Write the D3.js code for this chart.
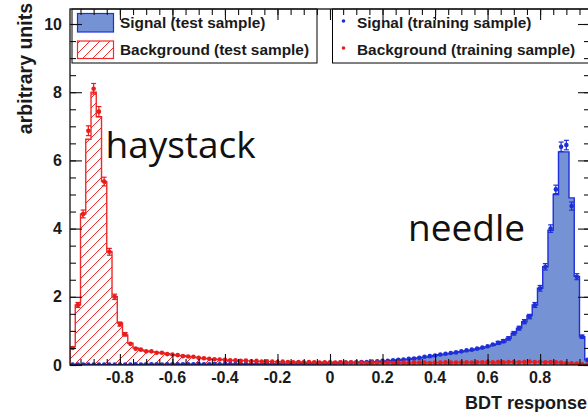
<!DOCTYPE html>
<html>
<head>
<meta charset="utf-8">
<script src="https://cdn.jsdelivr.net/npm/d3@7"></script>
<style>
  html, body { margin: 0; padding: 0; background: #ffffff; }
  svg { display: block; }
  .lab { font-family: "Liberation Sans", Arial, Helvetica, sans-serif; font-weight: bold; fill: #1a1a1a; }
  .note { font-family: "Open Sans", "Noto Sans", sans-serif; fill: #111; }
</style>
</head>
<body>
<svg id="chart" width="588" height="412"></svg>
<script>
// Histogram binning of the BDT output
const xMin = -0.99, binWidth = 0.02;

// Signal, test sample (filled histogram), one value per bin
const sigTest = [
  0.01,0.01,0.01,0.01,0.01,0.01,0.01,0.01,0.01,0.01,
  0.01,0.01,0.01,0.01,0.02,0.02,0.02,0.02,0.02,0.02,
  0.02,0.02,0.02,0.02,0.02,0.02,0.02,0.02,0.02,0.02,
  0.03,0.03,0.03,0.03,0.03,0.03,0.03,0.03,0.03,0.04,
  0.04,0.04,0.04,0.04,0.04,0.05,0.05,0.05,0.05,0.06,
  0.06,0.06,0.07,0.07,0.08,0.08,0.09,0.09,0.10,0.11,
  0.12,0.13,0.14,0.16,0.17,0.19,0.21,0.23,0.25,0.28,
  0.30,0.32,0.34,0.37,0.39,0.42,0.44,0.47,0.50,0.54,
  0.58,0.62,0.68,0.78,0.93,1.08,1.27,1.45,1.76,2.25,
  2.88,3.95,5.00,6.25,6.25,4.90,2.60,0.83,0.15
];

// Background, test sample (hatched histogram)
const bkgTest = [
  0.54,1.76,4.43,6.62,8.00,7.28,5.38,3.32,2.00,1.23,
  0.88,0.64,0.50,0.44,0.41,0.39,0.37,0.35,0.33,0.30,
  0.28,0.27,0.25,0.23,0.21,0.19,0.18,0.17,0.16,0.15,
  0.14,0.13,0.13,0.12,0.12,0.11,0.11,0.10,0.10,0.10,
  0.09,0.09,0.09,0.09,0.08,0.08,0.08,0.08,0.08,0.08,
  0.08,0.07,0.08,0.07,0.07,0.07,0.07,0.07,0.07,0.07,
  0.07,0.07,0.07,0.06,0.07,0.07,0.07,0.07,0.07,0.07,
  0.07,0.07,0.07,0.07,0.08,0.07,0.08,0.08,0.08,0.08,
  0.08,0.08,0.09,0.08,0.09,0.09,0.09,0.09,0.09,0.09,
  0.09,0.08,0.08,0.07,0.06,0.05,0.03,0.02,0.01
];

// Signal, training sample (points)
const sigTrain = [
  0.01,0.01,0.01,0.01,0.01,0.01,0.01,0.01,0.01,0.01,
  0.01,0.01,0.02,0.01,0.02,0.02,0.02,0.01,0.02,0.02,
  0.02,0.02,0.02,0.02,0.03,0.02,0.02,0.03,0.02,0.03,
  0.03,0.03,0.03,0.03,0.03,0.04,0.03,0.04,0.04,0.04,
  0.04,0.04,0.05,0.04,0.05,0.05,0.05,0.06,0.05,0.06,
  0.06,0.07,0.07,0.07,0.08,0.09,0.09,0.10,0.11,0.12,
  0.12,0.14,0.15,0.16,0.18,0.19,0.21,0.24,0.26,0.28,
  0.31,0.33,0.35,0.37,0.40,0.43,0.45,0.48,0.51,0.55,
  0.60,0.65,0.70,0.78,0.93,1.08,1.27,1.42,1.76,2.25,
  2.88,4.00,5.15,6.40,6.45,4.66,2.59,0.83,0.15
];

// Background, training sample (points)
const bkgTrain = [
  0.50,1.76,4.43,6.87,8.10,7.43,5.38,3.32,2.00,1.20,
  0.90,0.62,0.48,0.45,0.40,0.40,0.36,0.36,0.32,0.31,
  0.29,0.26,0.25,0.24,0.21,0.20,0.18,0.17,0.16,0.15,
  0.14,0.14,0.12,0.13,0.11,0.12,0.10,0.11,0.10,0.09,
  0.10,0.09,0.08,0.09,0.08,0.09,0.08,0.07,0.08,0.08,
  0.07,0.08,0.07,0.08,0.07,0.07,0.06,0.07,0.07,0.08,
  0.07,0.06,0.07,0.07,0.06,0.07,0.07,0.07,0.06,0.07,
  0.07,0.08,0.07,0.07,0.07,0.08,0.07,0.08,0.08,0.09,
  0.08,0.09,0.08,0.09,0.09,0.08,0.09,0.10,0.09,0.09,
  0.08,0.09,0.08,0.07,0.06,0.05,0.04,0.02,0.01
];

const xTickValues = [-0.8, -0.6, -0.4, -0.2, 0, 0.2, 0.4, 0.6, 0.8];
const yTickValues = [0, 2, 4, 6, 8, 10];
const legendTest = ["Signal (test sample)", "Background (test sample)"];
const legendTrain = ["Signal (training sample)", "Background (training sample)"];
const notes = [
  { text: "haystack", x: -0.855, y: 6.07 },
  { text: "needle", x: 0.297, y: 3.64 }
];

// ---- layout ----
const svg = d3.select("#chart");
const pL = 70, pR = 590, pT = 9, pB = 365;
const x = d3.scaleLinear().domain([xMin, xMin + binWidth * sigTest.length]).range([pL, pR]);
const y = d3.scaleLinear().domain([0, 10.44]).range([pB, pT]);

const blueLine = "#1f2fd8", blueFill = "#7592d4";
const redLine = "#ee2a2a";

const defs = svg.append("defs");
defs.append("clipPath").attr("id", "plotclip")
  .append("rect").attr("x", pL).attr("y", pT).attr("width", pR - pL).attr("height", pB - pT);

// 45-degree red hatching, clipped to a given shape
function hatchInto(parent, clipId, x0, x1, y0, y1) {
  const g = parent.append("g").attr("clip-path", `url(#${clipId})`)
    .attr("stroke", redLine).attr("stroke-width", 1);
  const h = y1 - y0;
  for (let c = x0 - h; c < x1; c += 10) {
    g.append("line").attr("x1", c).attr("y1", y1).attr("x2", c + h).attr("y2", y0);
  }
}

// Step outline of a histogram: bin edges paired with bin contents
function stepPoints(values) {
  const pts = values.map((v, i) => [xMin + i * binWidth, v]);
  pts.push([xMin + values.length * binWidth, values[values.length - 1]]);
  return pts;
}
const area = d3.area().curve(d3.curveStepAfter)
  .x(d => x(d[0])).y0(y(0)).y1(d => y(d[1]));

const plot = svg.append("g").attr("clip-path", "url(#plotclip)");

function drawHist(values, fill, stroke, hatched) {
  const pts = stepPoints(values);
  if (hatched) {
    defs.append("clipPath").attr("id", "histclip").append("path").datum(pts).attr("d", area);
    hatchInto(plot, "histclip", pL, pR, pT, pB);
  } else {
    plot.append("path").datum(pts).attr("d", area)
      .attr("fill", fill).attr("stroke", "none");
  }
  // outline including the vertical edges down to zero
  const first = pts[0], last = pts[pts.length - 1];
  const outline = [[first[0], 0]].concat(pts).concat([[last[0], 0]]);
  plot.append("path").datum(outline)
    .attr("d", d3.line().curve(d3.curveStepAfter).x(d => x(d[0])).y(d => y(d[1])))
    .attr("fill", "none").attr("stroke", stroke).attr("stroke-width", 1.4);
}
drawHist(sigTest, blueFill, blueLine, false);
drawHist(bkgTest, null, redLine, true);

// Training points with statistical error bars
function drawPoints(values, color) {
  const g = plot.append("g").attr("stroke", color).attr("fill", color);
  values.forEach((v, i) => {
    const cx = x(xMin + (i + 0.5) * binWidth);
    const err = Math.sqrt(v * 0.003);
    const y1 = y(v + err), y0 = y(Math.max(0, v - err));
    g.append("line").attr("x1", cx).attr("x2", cx).attr("y1", y1).attr("y2", y0).attr("stroke-width", 1.2);
    if (y0 - y1 > 3) {
      g.append("line").attr("x1", cx - 2.5).attr("x2", cx + 2.5).attr("y1", y1).attr("y2", y1).attr("stroke-width", 1.2);
      g.append("line").attr("x1", cx - 2.5).attr("x2", cx + 2.5).attr("y1", y0).attr("y2", y0).attr("stroke-width", 1.2);
    }
    g.append("circle").attr("cx", cx).attr("cy", y(v)).attr("r", 2.3).attr("stroke", "none");
  });
}
drawPoints(sigTrain, blueLine);
drawPoints(bkgTrain, "#e81c1c");

// ---- legends ----
const leg = svg.append("g");
leg.append("rect").attr("x", 72).attr("y", pT).attr("width", 245).attr("height", 54)
  .attr("fill", "#fff").attr("stroke", "#000").attr("stroke-width", 1);
leg.append("rect").attr("x", 332.5).attr("y", pT).attr("width", 270).attr("height", 54)
  .attr("fill", "#fff").attr("stroke", "#000").attr("stroke-width", 1);
leg.append("rect").attr("x", 77.5).attr("y", 13.5).attr("width", 36).attr("height", 18.5)
  .attr("fill", blueFill).attr("stroke", blueLine).attr("stroke-width", 1.2);
defs.append("clipPath").attr("id", "legclip")
  .append("rect").attr("x", 77.5).attr("y", 41).attr("width", 36).attr("height", 17.5);
hatchInto(leg, "legclip", 70, 120, 41, 58.5);
leg.append("rect").attr("x", 77.5).attr("y", 41).attr("width", 36).attr("height", 17.5)
  .attr("fill", "none").attr("stroke", redLine).attr("stroke-width", 1.2);
legendTest.forEach((t, i) => {
  leg.append("text").attr("class", "lab").attr("x", 120).attr("y", 28 + i * 27)
    .attr("font-size", 15.4).text(t);
});
leg.append("circle").attr("cx", 343.5).attr("cy", 21).attr("r", 1.8).attr("fill", blueLine);
leg.append("circle").attr("cx", 343.5).attr("cy", 48).attr("r", 1.8).attr("fill", "#e81c1c");
legendTrain.forEach((t, i) => {
  leg.append("text").attr("class", "lab").attr("x", 357).attr("y", 28 + i * 27)
    .attr("font-size", 15.4).text(t);
});

// ---- frame and axes (ticks point inward, as in ROOT) ----
const axes = svg.append("g");
const xMinor = d3.range(-0.95, 0.99, 0.05).map(v => +v.toFixed(2));
const yMinor = d3.range(0, 10.44, 0.5);

axes.append("g").attr("transform", `translate(0,${pB})`)
  .call(d3.axisTop(x).tickValues(xMinor).tickSize(6).tickFormat(""));
axes.append("g").attr("transform", `translate(0,${pB})`)
  .call(d3.axisTop(x).tickValues(xTickValues).tickSize(11).tickFormat(""));
axes.append("g").attr("transform", `translate(0,${pT})`)
  .call(d3.axisBottom(x).tickValues(xMinor).tickSize(6).tickFormat(""));
axes.append("g").attr("transform", `translate(0,${pT})`)
  .call(d3.axisBottom(x).tickValues(xTickValues).tickSize(11).tickFormat(""));
axes.append("g").attr("transform", `translate(${pL},0)`)
  .call(d3.axisRight(y).tickValues(yMinor).tickSize(6).tickFormat(""));
axes.append("g").attr("transform", `translate(${pL},0)`)
  .call(d3.axisRight(y).tickValues(yTickValues).tickSize(12).tickFormat(""));
axes.append("g").attr("transform", `translate(${pR},0)`)
  .call(d3.axisLeft(y).tickValues(yMinor).tickSize(6).tickFormat(""));
axes.append("g").attr("transform", `translate(${pR},0)`)
  .call(d3.axisLeft(y).tickValues(yTickValues).tickSize(12).tickFormat(""));
axes.selectAll(".domain").remove();
axes.selectAll("line").attr("stroke", "#111").attr("stroke-width", 1.1);
axes.append("rect").attr("x", pL).attr("y", pT).attr("width", pR - pL).attr("height", pB - pT)
  .attr("fill", "none").attr("stroke", "#111").attr("stroke-width", 1.3);

// tick labels
axes.selectAll(".xl").data(xTickValues).join("text").attr("class", "lab")
  .attr("x", d => x(d)).attr("y", 383).attr("text-anchor", "middle").attr("font-size", 16)
  .text(d => d3.format("")(d).replace("−", "-"));
axes.selectAll(".yl").data(yTickValues).join("text").attr("class", "lab")
  .attr("x", 62).attr("y", d => y(d) + 5.5).attr("text-anchor", "end").attr("font-size", 16)
  .text(d => d);

// axis titles
svg.append("text").attr("class", "lab").attr("x", 587).attr("y", 409)
  .attr("text-anchor", "end").attr("font-size", 18).text("BDT response");
svg.append("text").attr("class", "lab").attr("transform", "translate(32,3) rotate(-90)")
  .attr("text-anchor", "end").attr("font-size", 19.5).text("arbitrary units");

// annotations
notes.forEach(n => {
  svg.append("text").attr("class", "note").attr("x", x(n.x)).attr("y", y(n.y))
    .attr("font-size", 37).text(n.text);
});
</script>
</body>
</html>
